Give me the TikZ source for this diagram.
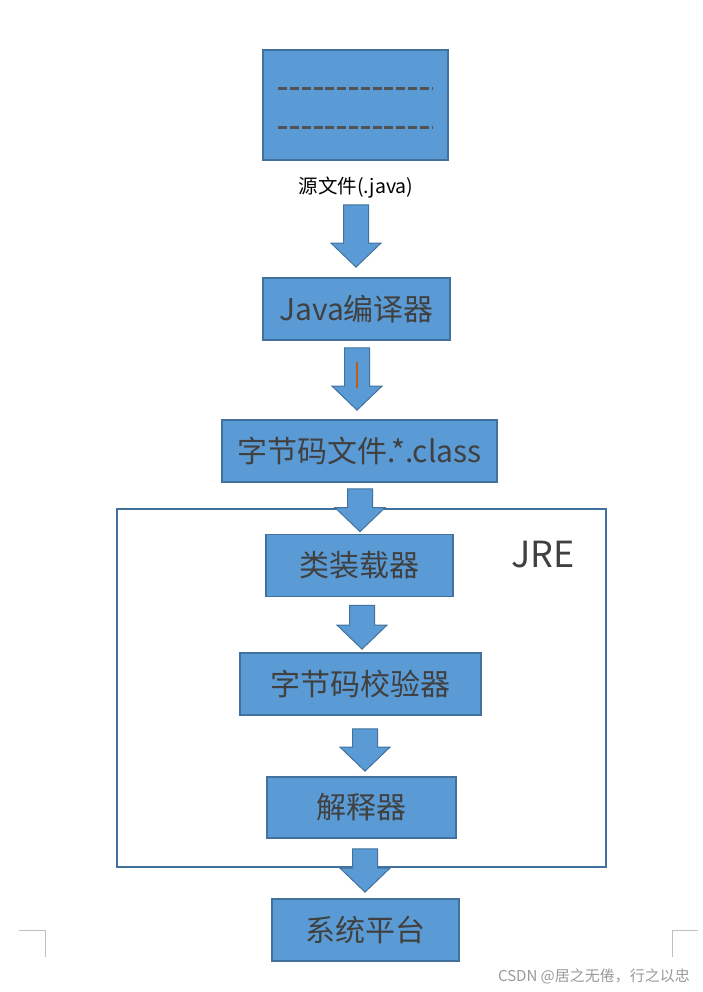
\documentclass[tikz,border=0pt]{standalone}
\usepackage{fontspec}
\setmainfont{Noto Sans CJK SC}
\usetikzlibrary{calc}
\definecolor{boxfill}{HTML}{5B9BD5}
\definecolor{boxline}{HTML}{41719C}
\definecolor{textgray}{HTML}{404040}
\definecolor{cursor}{HTML}{C55A11}
\definecolor{markgray}{HTML}{BFBFBF}
% block arrow: from, to, gap below from, gap above to, x shift
\newcommand{\flowarrow}[5]{%
  \path[flow] let \p1=($(#1.south)+(#5,#3)$), \p2=($(#2.north)+(#5,-#4)$) in
    (\x1-12.5pt,\y1) -- (\x1+12.5pt,\y1) -- (\x1+12.5pt,\y2+24pt) -- (\x1+25pt,\y2+24pt)
    -- (\x1,\y2) -- (\x1-25pt,\y2+24pt) -- (\x1-12.5pt,\y2+24pt) -- cycle;}

\begin{document}
\begin{tikzpicture}[x=1pt, y=-1pt,
    box/.style={draw=boxline, line width=1.8pt, fill=boxfill, text=textgray, inner sep=0pt,
      minimum height=62pt, font=\fontsize{30}{34}\selectfont},
    flow/.style={draw=boxline, line width=1pt, fill=boxfill, line join=miter},
    dashline/.style={draw=textgray!90, line width=3pt, dash pattern=on 9pt off 2.8pt}]
    \useasboundingbox (0,0) rectangle (703,992);
    % JRE frame
    \draw[boxline, line width=1.6pt] (117,509) rectangle (606,867);
    \node[text=textgray, font=\fontsize{36}{40}\selectfont] (jre) at (543,555) {JRE};
    % boxes
    \node[box, minimum width=185pt, minimum height=110pt] (src) at (355.5,105) {};
    \draw[dashline] ($(src.north west)+(16,39)$) -- ($(src.north east)+(-17,39)$);
    \draw[dashline] ($(src.north west)+(16,78)$) -- ($(src.north east)+(-17,78)$);
    \node[font=\fontsize{19.5}{22}\selectfont, inner sep=0pt] (srclabel) at (356,188) {源文件(.java)};
    \node[box, minimum width=187pt] (javac) at (356.5,309) {Java编译器};
    \node[box, minimum width=275pt] (bytecode) at (359.5,451) {字节码文件.*.class};
    \node[box, minimum width=187pt] (loader) at (359.5,565.5) {类装载器};
    \node[box, minimum width=241pt] (verifier) at (360.5,684) {字节码校验器};
    \node[box, minimum width=189pt, minimum height=61pt] (interp) at (361.5,807.5) {解释器};
    \node[box, minimum width=187pt] (platform) at (365.5,930) {系统平台};
    % arrows
    \flowarrow{srclabel}{javac}{6}{10}{0}
    \flowarrow{javac}{bytecode}{7}{9}{0.5}
    \draw[cursor, line width=1.5pt] ($(javac.south)+(0.5,21)$) -- ++(0,26);
    \flowarrow{bytecode}{loader}{6}{2}{0.5}
    \flowarrow{loader}{verifier}{8}{3}{2.5}
    \flowarrow{verifier}{interp}{13}{5}{4.5}
    \flowarrow{interp}{platform}{10}{6}{3.5}
    % page corner marks
    \draw[markgray, line width=1pt] (19,930) -- (45,930) -- (45,957);
    \draw[markgray, line width=1pt] (698,930) -- (672,930) -- (672,957);
    \node[text=gray!80, font=\fontsize{15}{17}\selectfont, inner sep=0pt] (mark) at (594,976) {CSDN @居之无倦，行之以忠};
\end{tikzpicture}
\end{document}
